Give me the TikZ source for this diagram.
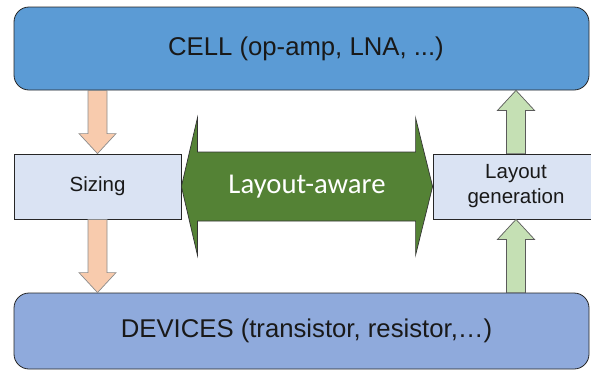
\documentclass[tikz,border=0pt]{standalone}
\usepackage{fontspec}
\setmainfont{Liberation Sans}
\newfontfamily\calibrifont{Carlito}
\usetikzlibrary{calc}

\definecolor{cellblue}{HTML}{5B9BD5}
\definecolor{devblue}{HTML}{8FAADC}
\definecolor{paleblue}{HTML}{DAE3F3}
\definecolor{peach}{HTML}{F8CBAD}
\definecolor{palegreen}{HTML}{C5E0B4}
\definecolor{darkgreen}{HTML}{548235}
\definecolor{edgegray}{HTML}{5A5A5A}

\tikzset{
  bigbox/.style={draw=black!85, line width=0.8pt, rounded corners=15pt,
    minimum width=575pt, inner sep=0pt},
  smallbox/.style={draw=black!85, line width=0.8pt, fill=paleblue,
    minimum height=65pt, inner sep=0pt},
  bigtext/.style={font=\fontsize{25.7}{30}\selectfont, text=black!90},
  smalltext/.style={font=\fontsize{20.5}{25}\selectfont, text=black!90, align=center},
  downflow/.style={fill=peach, draw=edgegray!70, line width=0.7pt},
  upflow/.style={fill=palegreen, draw=edgegray, line width=0.7pt},
  bothway/.style={fill=darkgreen, draw=black!80, line width=0.7pt},
}

% vertical block arrow: style, tail point, tip point
\newcommand{\vblockarrow}[3]{%
  \draw[#1] let \p1=(#2), \p2=(#3),
      \n1={ifthenelse(\y2>\y1,1,-1)*20pt} in
    (\x1-9.5pt,\y1) -- (\x1-9.5pt,\y2-\n1) -- (\x1-18.5pt,\y2-\n1)
    -- (\x2,\y2) -- (\x1+18.5pt,\y2-\n1) -- (\x1+9.5pt,\y2-\n1)
    -- (\x1+9.5pt,\y1) -- cycle;}

\begin{document}
\begin{tikzpicture}[x=1pt, y=-1pt]
  \clip (0,0) rectangle (591,370);

  % level boxes
  \node[bigbox, fill=cellblue, minimum height=83pt] (cell) at (301.5,48.5) {};
  \node[bigbox, fill=devblue, minimum height=76pt] (devices) at (301.5,331) {};
  \node[bigtext] (celltext) at (306,48.5) {CELL (op-amp, LNA, ...)};
  \node[bigtext] (devtext) at (306.5,331) {DEVICES (transistor, resistor,…)};

  % step boxes
  \node[smallbox, minimum width=167pt] (sizing) at (97.5,186.5) {};
  \node[smalltext] (sizingtext) at (sizing.center) {Sizing};
  \node[smallbox, minimum width=166pt] (layout) at (516,186.5) {};
  \node[smalltext] (layouttext) at (layout.center) {Layout\\generation};

  % sizing flow: cell -> sizing -> devices
  \vblockarrow{downflow}{cell.south -| sizing.north}{sizing.north}
  \vblockarrow{downflow}{sizing.south}{devices.north -| sizing.south}

  % layout flow: devices -> layout -> cell
  \vblockarrow{upflow}{devices.north -| layout.south}{layout.south}
  \vblockarrow{upflow}{layout.north}{cell.south -| layout.north}

  % two-way arrow between sizing and layout generation
  \draw[bothway] let \p1=(sizing.east), \p2=(layout.west) in
    (\x1,\y1) -- (\x1+16pt,\y1+68.5pt) -- (\x1+16pt,\y1+34.5pt)
    -- (\x2-17pt,\y2+34.5pt) -- (\x2-17pt,\y2+68.5pt) -- (\x2,\y2)
    -- (\x2-17pt,\y2-68.5pt) -- (\x2-17pt,\y2-34.5pt)
    -- (\x1+16pt,\y1-34.5pt) -- (\x1+16pt,\y1-68.5pt) -- cycle;
  \node[font=\calibrifont\fontsize{28.7}{32}\selectfont, text=white] (aware)
    at ($(sizing.east)!0.5!(layout.west)$) {Layout-aware};
\end{tikzpicture}
\end{document}
